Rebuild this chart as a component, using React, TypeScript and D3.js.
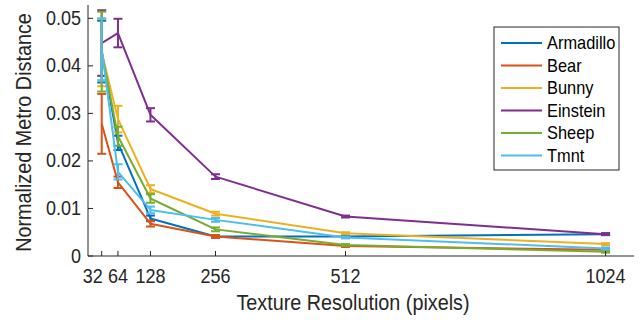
import React from 'react';
import * as d3 from 'd3';

// texture resolutions (x) and per-model mean / error of the metro distance
const resolutions = [32, 64, 128, 256, 512, 1024];
const models = ['Armadillo', 'Bear', 'Bunny', 'Einstein', 'Sheep', 'Tmnt'];
const colors = ['#0072BD', '#D95319', '#EDB120', '#7E2F8E', '#77AC30', '#4DBEEE'];

const armadillo = [0.0430, 0.0238, 0.0079, 0.0041, 0.0041, 0.0046];
const bear = [0.0278, 0.0155, 0.0068, 0.0041, 0.0021, 0.0013];
const bunny = [0.0428, 0.0288, 0.0141, 0.0089, 0.0048, 0.0025];
const einstein = [0.0448, 0.0469, 0.0297, 0.0167, 0.0083, 0.0046];
const sheep = [0.0430, 0.0252, 0.0121, 0.0056, 0.0023, 0.0009];
const tmnt = [0.0435, 0.0177, 0.0097, 0.0076, 0.0039, 0.0016];

const armadilloErr = [0.0065, 0.0015, 0.0006, 0.0003, 0.0002, 0.0002];
const bearErr = [0.0063, 0.0012, 0.0006, 0.0003, 0.0002, 0.0002];
const bunnyErr = [0.0071, 0.0028, 0.0008, 0.0004, 0.0002, 0.0002];
const einsteinErr = [0.0069, 0.0030, 0.0014, 0.0005, 0.0002, 0.0002];
const sheepErr = [0.0084, 0.0020, 0.0009, 0.0004, 0.0002, 0.0002];
const tmntErr = [0.0065, 0.0016, 0.0007, 0.0004, 0.0002, 0.0002];

const yTicks = [0, 0.01, 0.02, 0.03, 0.04, 0.05];

const means = [armadillo, bear, bunny, einstein, sheep, tmnt];
const errs = [armadilloErr, bearErr, bunnyErr, einsteinErr, sheepErr, tmntErr];

const font = '"Liberation Sans", Arial, Helvetica, sans-serif';
const ink = '#262626';
const stretch = 'scale(1,1.12)'; // the reference text is a little taller than wide

export default function App() {
  const width = 640, height = 320;
  const left = 88, right = 634, top = 5, bottom = 256;

  const x = d3.scaleLinear().domain([5, 1080]).range([left, right]);
  const y = d3.scaleLinear().domain([0, 0.0528]).range([bottom, top]);

  const line = d3.line<number>()
    .x((_, i) => x(resolutions[i]))
    .y(d => y(d));

  const cap = 4.5;

  return (
    <svg width={width} height={height} style={{position: 'absolute', left: 0, top: 0, background: '#fff'}}
         fontFamily={font}>
      <rect width={width} height={height} fill="#fff"/>

      {/* series */}
      {means.map((vals, s) => (
        <g key={models[s]} stroke={colors[s]} strokeWidth={2} fill="none">
          <path d={line(vals) || ''} strokeLinejoin="round"/>
          {vals.map((v, i) => {
            const cx = x(resolutions[i]);
            const y0 = y(v - errs[s][i]), y1 = y(v + errs[s][i]);
            return (
              <g key={i}>
                <line x1={cx} x2={cx} y1={y0} y2={y1}/>
                <line x1={cx - cap} x2={cx + cap} y1={y0} y2={y0}/>
                <line x1={cx - cap} x2={cx + cap} y1={y1} y2={y1}/>
              </g>
            );
          })}
        </g>
      ))}

      {/* axes */}
      <g stroke={ink} strokeWidth={1} fill="none">
        <line x1={left} x2={left} y1={top} y2={bottom}/>
        <line x1={left} x2={right} y1={bottom} y2={bottom}/>
        {yTicks.map(t => (
          <line key={t} x1={left} x2={left + 5} y1={y(t)} y2={y(t)}/>
        ))}
        {resolutions.map(t => (
          <line key={t} x1={x(t)} x2={x(t)} y1={bottom} y2={bottom - 5}/>
        ))}
      </g>
      <g fill={ink} fontSize={18}>
        {yTicks.map(t => (
          <text key={t} transform={`translate(${left - 7},${y(t) + 6.5}) ${stretch}`} textAnchor="end">
            {t === 0 ? '0' : d3.format('.2f')(t)}
          </text>
        ))}
        {resolutions.map((t, i) => (
          <text key={t} transform={`translate(${i === 0 ? x(t) + 1 : x(t)},${bottom + 27}) ${stretch}`}
                textAnchor={i === 0 ? 'end' : 'middle'}>{t}</text>
        ))}
      </g>
      <text transform={`translate(353,310) ${stretch}`} textAnchor="middle" fontSize={19.8} fill={ink}>
        Texture Resolution (pixels)
      </text>
      <text transform={`translate(31,${(top + bottom) / 2 + 2}) rotate(-90) ${stretch}`} textAnchor="middle"
            fontSize={19.8} fill={ink}>
        Normalized Metro Distance
      </text>

      {/* legend */}
      <g transform="translate(494,27)">
        <rect width={125} height={143} fill="#fff" stroke={ink} strokeWidth={1}/>
        {models.map((m, i) => (
          <g key={m} transform={`translate(0,${16 + i * 22.5})`}>
            <line x1={7} x2={48} y1={0} y2={0} stroke={colors[i]} strokeWidth={2}/>
            <text transform={`translate(53,6) ${stretch}`} fontSize={16.4} fill="#000">{m}</text>
          </g>
        ))}
      </g>
    </svg>
  );
}
